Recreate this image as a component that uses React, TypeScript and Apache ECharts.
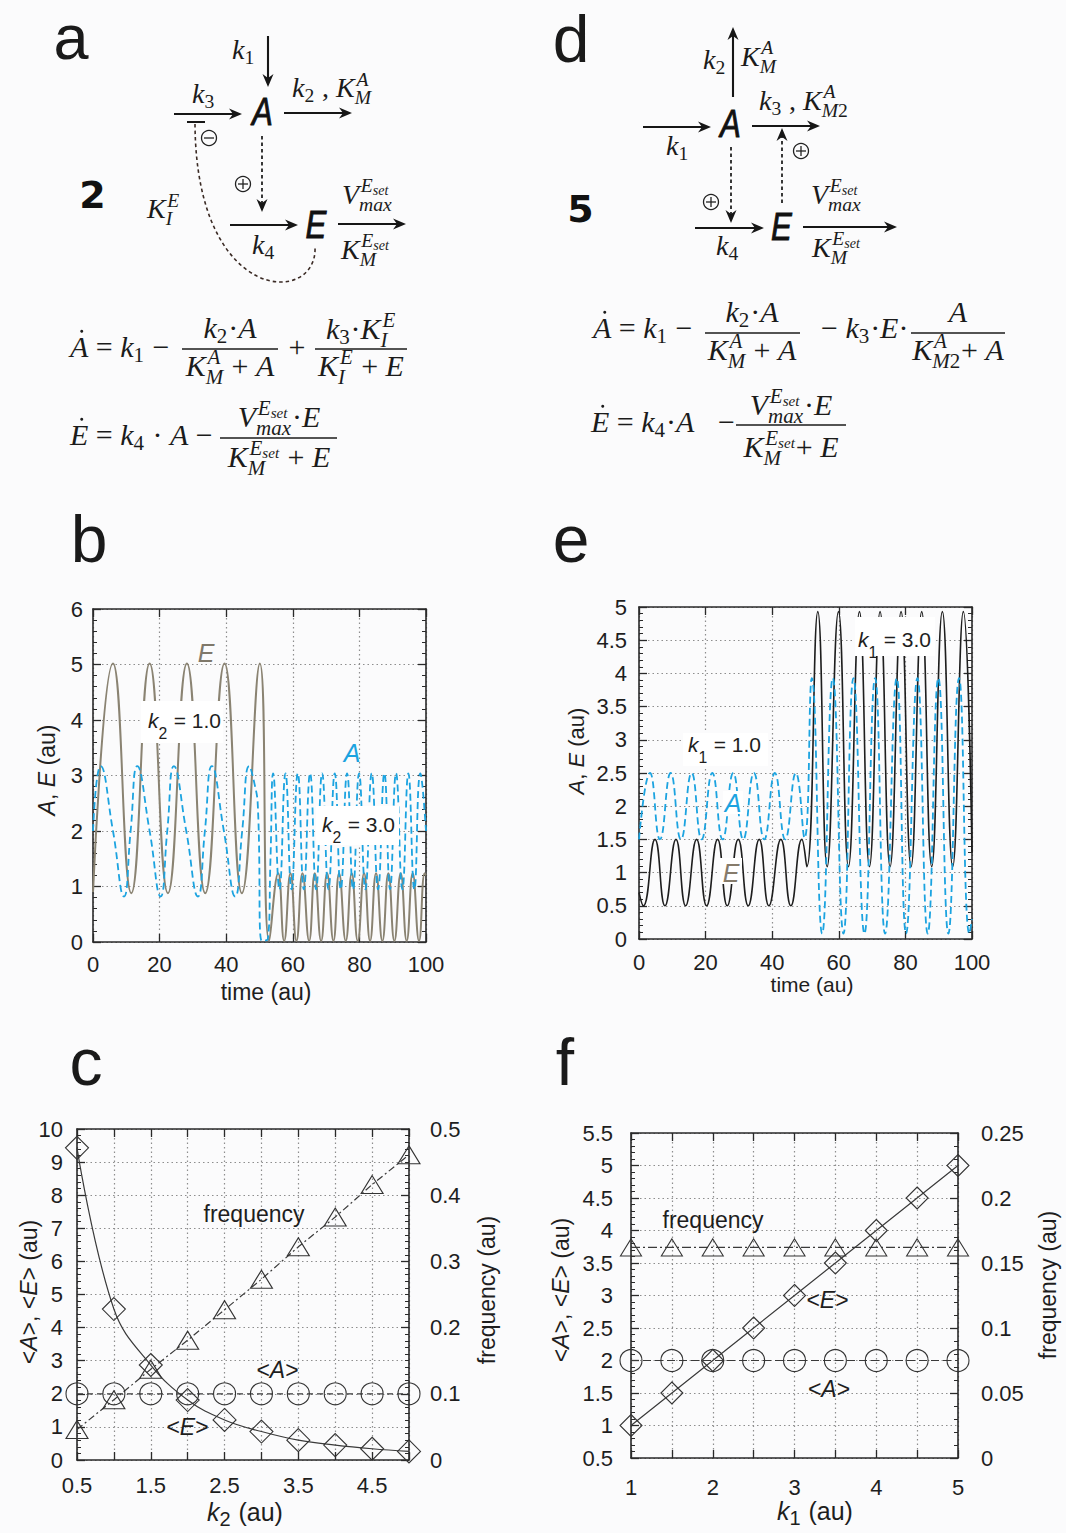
import React, { useEffect, useRef } from 'react';
import * as echarts from 'echarts';

// ---------------- DATA ----------------
// Panel b: k2 switched from 1.0 to 3.0 at t = 50
const bTimeE = [0, 6.0, 11.5, 17.0, 22.5, 28.2, 33.7, 39.5, 44.7, 50.1, 52.9, 55.6, 57.4, 59.3, 61.1, 62.9, 64.9, 66.6, 68.5, 70.3, 72.2, 73.9, 75.9, 77.7, 79.5, 81.4, 83.2, 85.0, 86.9, 88.7, 90.5, 92.4, 94.2, 96.0, 97.9, 99.6, 100];
const bE = [0.9, 5.02, 0.88, 5.02, 0.88, 5.02, 0.88, 5.02, 0.88, 5.02, 0.02, 1.24, 0.02, 1.24, 0.02, 1.24, 0.02, 1.24, 0.02, 1.24, 0.02, 1.24, 0.02, 1.24, 0.02, 1.24, 0.02, 1.24, 0.02, 1.24, 0.02, 1.24, 0.02, 1.24, 0.02, 1.24, 1.2];
const bTimeA = [0, 2.3, 6.0, 9.3, 11.3, 13.3, 17.0, 20.3, 22.3, 24.3, 28.0, 31.5, 33.6, 35.7, 39.3, 42.7, 44.8, 46.9, 48.5, 49.5, 50.7, 52.5, 53.3, 54.1, 56.0, 57.8, 59.6, 61.5, 63.3, 65.2, 67.0, 68.8, 70.7, 72.6, 74.4, 76.3, 78.1, 79.9, 81.8, 83.7, 85.6, 87.5, 89.2, 91.0, 92.9, 94.7, 96.5, 98.3, 100];
const bA = [2.0, 3.17, 2.0, 0.82, 2.0, 3.17, 2.0, 0.82, 2.0, 3.17, 2.0, 0.82, 2.0, 3.17, 2.0, 0.82, 2.0, 3.17, 2.85, 2.45, 0.02, 0.05, 1.5, 3.04, 0.95, 3.04, 0.95, 3.04, 0.95, 3.04, 0.95, 3.04, 0.95, 3.04, 0.95, 3.04, 0.95, 3.04, 0.95, 3.04, 0.95, 3.04, 0.95, 3.04, 0.95, 3.04, 0.95, 3.04, 2.0];

// Panel e: k1 switched from 1.0 to 3.0 at t = 50
const eTimeE = [0, 1.3, 4.8, 7.8, 11.1, 14.0, 17.3, 20.3, 23.6, 26.5, 29.8, 32.8, 36.1, 39.0, 42.6, 45.6, 48.9, 50.4, 53.7, 56.5, 59.9, 62.9, 66.2, 69.2, 72.4, 75.4, 78.7, 81.7, 84.9, 87.9, 91.1, 94.2, 97.4, 100];
const eE = [0.7, 0.5, 1.5, 0.5, 1.5, 0.5, 1.5, 0.5, 1.5, 0.5, 1.5, 0.5, 1.5, 0.5, 1.5, 0.5, 1.5, 1.09, 4.93, 1.09, 4.93, 1.09, 4.93, 1.09, 4.93, 1.09, 4.93, 1.09, 4.93, 1.09, 4.93, 1.09, 4.93, 1.3];
const eTimeA = [0, 3.3, 6.3, 9.5, 12.6, 15.8, 18.8, 22.0, 25.1, 28.3, 31.3, 34.5, 37.6, 40.8, 43.9, 47.1, 49.7, 51.9, 55.0, 58.2, 61.4, 64.4, 67.7, 70.9, 73.9, 77.4, 80.2, 83.6, 86.7, 89.9, 92.9, 96.1, 99.2, 100];
const eA = [1.5, 2.5, 1.5, 2.5, 1.5, 2.5, 1.5, 2.5, 1.5, 2.5, 1.5, 2.5, 1.5, 2.5, 1.5, 2.5, 1.52, 3.93, 0.08, 3.93, 0.08, 3.93, 0.08, 3.93, 0.08, 3.93, 0.08, 3.93, 0.08, 3.93, 0.08, 3.93, 0.08, 0.3];

// Panel c: steady-state means and frequency vs k2
const cK2 = [0.5, 1.0, 1.5, 2.0, 2.5, 3.0, 3.5, 4.0, 4.5, 5.0];
const cMeanE = [9.43, 4.56, 2.87, 1.81, 1.21, 0.86, 0.6, 0.45, 0.34, 0.26];
const cMeanA = [2, 2, 2, 2, 2, 2, 2, 2, 2, 2];
const cFreq = [0.046, 0.091, 0.137, 0.181, 0.227, 0.273, 0.322, 0.367, 0.416, 0.461];

// Panel f: steady-state means and frequency vs k1
const fK1 = [1.0, 1.5, 2.0, 2.5, 3.0, 3.5, 4.0, 4.5, 5.0];
const fMeanE = [1.0, 1.5, 2.0, 2.5, 3.0, 3.5, 4.0, 4.5, 5.0];
const fMeanA = [2, 2, 2, 2, 2, 2, 2, 2, 2];
const fFreq = [0.162, 0.162, 0.162, 0.162, 0.162, 0.162, 0.162, 0.162, 0.162];

// ---------------- STYLE ----------------
const SANS = '"Liberation Sans", Arial, sans-serif';
const SERIF = '"Liberation Serif", "Times New Roman", serif';
const DSANS = '"DejaVu Sans", sans-serif';
const INK = '#1b1b1b';
const BLUE = '#1ba3e0';
const OLIVE = '#8a8372';
const AXC = '#2a2a2a';
const GRIDC = '#8e8e8e';

const zip = (xs: number[], ys: number[]) => xs.map((x, i) => [x, ys[i]]);

// ---------------- tiny math layout ----------------
let _ctx: any = null;
function tw(text: string, font: string) {
  if (!_ctx) _ctx = document.createElement('canvas').getContext('2d');
  _ctx.font = font;
  return _ctx.measureText(text).width;
}

function parse(src: string) {
  const toks: any[] = [];
  let i = 0;
  let nextIt = false;
  while (i < src.length) {
    const c = src[i];
    if (c === '_' || c === '^') {
      let g = '';
      if (src[i + 1] === '{') {
        const k = src.indexOf('}', i + 1);
        g = src.slice(i + 2, k);
        i = k + 1;
      } else {
        g = src[i + 1];
        i += 2;
      }
      const key = c === '_' ? 'sub' : 'sup';
      const last = toks[toks.length - 1];
      if (last && last.kind === 'script' && last[key] == null) last[key] = g;
      else toks.push({ kind: 'script', [key]: g });
      continue;
    }
    if (c === '\u0307') {
      if (toks.length) toks[toks.length - 1].dot = true;
      i++;
      continue;
    }
    if (c === '~') {
      nextIt = true;
      i++;
      continue;
    }
    toks.push({ kind: 'char', c, forceIt: nextIt });
    nextIt = false;
    i++;
  }
  return toks;
}

function runsOf(str: string, math: boolean) {
  const out: any[] = [];
  for (const ch of str) {
    const it = math && /[A-Za-z]/.test(ch);
    const last = out[out.length - 1];
    if (last && last.it === it) last.t += ch;
    else out.push({ t: ch, it });
  }
  return out;
}

function mathText(x: number, baseline: number, src: string, o: any = {}) {
  const S = o.size || 30;
  const fam = o.family || SERIF;
  const col = o.color || INK;
  const math = o.math !== false;
  const ss = o.ss || 0.7;
  const supDy = o.supDy ?? -0.4 * S;
  const supDy2 = o.supDy2 ?? -0.4 * S;
  const subDy = o.subDy ?? 0.17 * S;
  const subDy2 = o.subDy2 ?? 0.27 * S;
  const font = (it: boolean, sz: number) => `${it ? 'italic ' : ''}${sz}px ${fam}`;
  const isIt = (t: any) => (math ? /[A-Za-z]/.test(t.c) : !!t.forceIt);
  const items: any[] = [];
  let pos = 0;
  const toks = parse(src);
  let i = 0;
  while (i < toks.length) {
    const t = toks[i];
    if (t.kind === 'script') {
      const sz = S * ss;
      const both = t.sub != null && t.sup != null;
      let w = 0;
      const parts: any[] = [];
      if (t.sup != null) parts.push([t.sup, both ? supDy2 : supDy, 0.06 * S]);
      if (t.sub != null) parts.push([t.sub, both ? subDy2 : subDy, 0]);
      for (const [str, dy, xo] of parts) {
        let px = pos + xo;
        const [m, n] = String(str).split('_');
        const segs: any[] = [[m, sz, dy]];
        if (n) segs.push([n, sz * 0.72, dy + 0.12 * S]);
        for (const [s2, z2, d2] of segs) {
          for (const r of runsOf(s2, math)) {
            const rw = tw(r.t, font(r.it, z2));
            items.push({ t: r.t, it: r.it, sz: z2, dx: px, dy: d2, script: true });
            px += rw;
          }
        }
        w = Math.max(w, px - pos);
      }
      pos += w + 0.03 * S;
      i++;
      continue;
    }
    const it = isIt(t);
    let s = t.c;
    let j = i + 1;
    if (!t.dot) {
      while (j < toks.length && toks[j].kind === 'char' && !toks[j].dot && isIt(toks[j]) === it) {
        s += toks[j].c;
        j++;
      }
    }
    const w = tw(s, font(it, S));
    items.push({ t: s, it, sz: S, dx: pos, dy: 0, dotW: t.dot ? w : 0 });
    pos += w;
    i = j;
  }
  const x0 = o.align === 'center' ? x - pos / 2 : o.align === 'right' ? x - pos : x;
  const els: any[] = [];
  for (const it of items) {
    els.push({
      type: 'text',
      z: 101,
      x: x0 + it.dx,
      y: baseline + it.dy - 0.34 * it.sz,
      style: {
        text: it.t,
        font: font(it.it, it.sz),
        fill: col,
        lineHeight: Math.round(it.sz * (it.script ? 0.62 : 0.85)),
        align: 'left',
        verticalAlign: 'middle',
        textAlign: 'left',
        textVerticalAlign: 'middle',
      },
    });
    if (it.dotW) {
      els.push({
        type: 'circle',
        z: 101,
        shape: { cx: x0 + it.dx + it.dotW * 0.64, cy: baseline - 0.86 * S, r: 0.05 * S },
        style: { fill: col },
      });
    }
  }
  return els;
}

function arrow(x1: number, y1: number, x2: number, y2: number, dashed = false) {
  const color = '#161616';
  const dx = x2 - x1;
  const dy = y2 - y1;
  const L = Math.hypot(dx, dy);
  const ux = dx / L;
  const uy = dy / L;
  const px = -uy;
  const py = ux;
  const hl = 13;
  const hw = 5.5;
  const notch = 9;
  const bx = x2 - ux * hl;
  const by = y2 - uy * hl;
  const nx = x2 - ux * notch;
  const ny = y2 - uy * notch;
  const lineStyle: any = { stroke: color, lineWidth: dashed ? 1.7 : 2.1 };
  if (dashed) lineStyle.lineDash = [3.5, 3];
  return [
    { type: 'line', z: 100, shape: { x1, y1, x2: nx, y2: ny }, style: lineStyle },
    {
      type: 'polygon',
      z: 100,
      shape: { points: [[x2, y2], [bx + px * hw, by + py * hw], [nx, ny], [bx - px * hw, by - py * hw]] },
      style: { fill: color },
    },
  ];
}

function circOp(cx: number, cy: number, plus: boolean) {
  const st = { stroke: '#222', lineWidth: 1.3 };
  const els: any[] = [
    { type: 'circle', z: 100, shape: { cx, cy, r: 7.5 }, style: { ...st, fill: 'none' } },
    { type: 'line', z: 100, shape: { x1: cx - 5, y1: cy, x2: cx + 5, y2: cy }, style: st },
  ];
  if (plus) els.push({ type: 'line', z: 100, shape: { x1: cx, y1: cy - 5, x2: cx, y2: cy + 5 }, style: st });
  return els;
}

function txt(text: string, cx: number, baseline: number, font: string, size: number, color = INK, extra: any = {}, styleExtra: any = {}) {
  return {
    type: 'text',
    z: 101,
    x: cx,
    y: baseline - 0.346 * size,
    ...extra,
    style: {
      text,
      font,
      fill: color,
      lineHeight: Math.round(size * 0.85),
      align: 'center',
      verticalAlign: 'middle',
      textAlign: 'center',
      textVerticalAlign: 'middle',
      ...styleExtra,
    },
  };
}

const letter = (ch: string, cx: number, base: number, size = 66) => txt(ch, cx, base, `${size}px ${SANS}`, size, '#1a1a1a');
const bigSym = (ch: string, cx: number, base: number) =>
  txt(ch, cx, base, `italic 39px ${SANS}`, 39, '#111', { scaleX: 0.8 }, { stroke: '#111', lineWidth: 0.9 });
const boldNum = (ch: string, cx: number, base: number) => txt(ch, cx, base, `bold 38px ${DSANS}`, 38, '#111');
const whiteBox = (x: number, y: number, w: number, h: number) => ({
  type: 'rect',
  z: 100,
  shape: { x, y, width: w, height: h },
  style: { fill: '#ffffff' },
});
const fracBar = (x1: number, x2: number, y: number) => ({
  type: 'line',
  z: 100,
  shape: { x1, y1: y, x2, y2: y },
  style: { stroke: INK, lineWidth: 1.3 },
});
const rotLabel = (cx: number, cy: number, src: string, size: number) => ({
  type: 'group',
  x: cx,
  y: cy,
  rotation: Math.PI / 2,
  children: mathText(0, 0.35 * size, src, { size, family: SANS, math: false, align: 'center', color: '#1e1e1e' }),
});
const sansLabel = (x: number, base: number, src: string, size: number, extra: any = {}) =>
  mathText(x, base, src, { size, family: SANS, math: false, color: '#1e1e1e', ...extra });

function buildGraphic() {
  const D = 28; // diagram label size
  const Q = 30; // equation size
  const g: any[] = [];
  // panel letters
  g.push(letter('a', 71, 59, 63), letter('d', 571, 62), letter('b', 89, 562), letter('e', 571, 562), letter('c', 86, 1085), letter('f', 565, 1085));

  // ---- panel a diagram ----
  g.push(...mathText(232, 59, 'k_{1}', { size: D }));
  g.push(...arrow(268, 36, 268, 87));
  g.push(...mathText(192, 103, 'k_{3}', { size: D }));
  g.push(...arrow(174, 114, 242, 114));
  g.push(bigSym('A', 262.5, 125));
  g.push(...mathText(292, 97, 'k_{2} , K^{A}_{M}', { size: D }));
  g.push(...arrow(284, 113, 352, 113));
  g.push({ type: 'line', z: 100, shape: { x1: 187, y1: 122, x2: 205, y2: 122 }, style: { stroke: '#161616', lineWidth: 2 } });
  g.push(...circOp(209, 138, false));
  g.push({
    type: 'bezierCurve',
    z: 100,
    shape: { x1: 195, y1: 124, cpx1: 196, cpy1: 306, cpx2: 318, cpy2: 306, x2: 315, y2: 247 },
    style: { stroke: '#3a2a24', lineWidth: 1.6, lineDash: [3.5, 3], fill: 'none' },
  });
  g.push(...arrow(262, 136, 262, 212, true));
  g.push(...circOp(243, 184, true));
  g.push(boldNum('2', 92.5, 208));
  g.push(...mathText(147, 218, 'K^{E}_{I}', { size: D }));
  g.push(...arrow(230, 225, 298, 225));
  g.push(...mathText(252, 254, 'k_{4}', { size: D }));
  g.push(bigSym('E', 316, 238));
  g.push(...arrow(338, 224, 406, 224));
  g.push(...mathText(342, 204, 'V^{E_set}_{max}', { size: D, supDy2: -0.44 * D }));
  g.push(...mathText(341, 259, 'K^{E_set}_{M}', { size: D, supDy2: -0.44 * D }));

  // ---- panel d diagram ----
  g.push(...arrow(733, 97, 733, 27));
  g.push(...mathText(703, 69, 'k_{2}', { size: D }));
  g.push(...mathText(741, 66, 'K^{A}_{M}', { size: D, supDy2: -0.44 * D }));
  g.push(...arrow(643, 127, 711, 127));
  g.push(...mathText(666, 155, 'k_{1}', { size: D }));
  g.push(bigSym('A', 730.5, 137));
  g.push(...arrow(752, 126, 820, 126));
  g.push(...mathText(759, 110, 'k_{3} , K^{A}_{M2}', { size: D, supDy2: -0.44 * D }));
  g.push(...arrow(782, 203, 782, 128, true));
  g.push(...circOp(801, 151, true));
  g.push(...arrow(731, 147, 731, 223, true));
  g.push(...circOp(711, 202, true));
  g.push(boldNum('5', 580.5, 222));
  g.push(...arrow(695, 228, 764, 228));
  g.push(...mathText(716, 255, 'k_{4}', { size: D }));
  g.push(bigSym('E', 781.5, 240));
  g.push(...arrow(803, 227, 897, 227));
  g.push(...mathText(811, 204, 'V^{E_set}_{max}', { size: D, supDy2: -0.44 * D }));
  g.push(...mathText(812, 257, 'K^{E_set}_{M}', { size: D, supDy2: -0.44 * D }));

  // ---- panel a equations ----
  g.push(...mathText(70, 357, 'A\u0307 = k_{1} \u2212', { size: Q }));
  g.push(fracBar(182, 278, 349));
  g.push(...mathText(230, 338, 'k_{2}\u00b7A', { size: Q, align: 'center' }));
  g.push(...mathText(230, 376, 'K^{A}_{M} + A', { size: Q, align: 'center' }));
  g.push(...mathText(297, 357, '+', { size: Q, align: 'center' }));
  g.push(fracBar(315, 407, 349));
  g.push(...mathText(361, 339, 'k_{3}\u00b7K^{E}_{I}', { size: Q, align: 'center' }));
  g.push(...mathText(361, 376, 'K^{E}_{I} + E', { size: Q, align: 'center' }));
  g.push(...mathText(70, 445, 'E\u0307 = k_{4} \u00b7 A \u2212', { size: Q }));
  g.push(fracBar(220, 337, 438));
  g.push(...mathText(279, 427, 'V^{E_set}_{max}\u00b7E', { size: Q, align: 'center' }));
  g.push(...mathText(279, 467, 'K^{E_set}_{M} + E', { size: Q, align: 'center' }));

  // ---- panel d equations ----
  g.push(...mathText(593, 338, 'A\u0307 = k_{1} \u2212', { size: Q }));
  g.push(fracBar(705, 800, 333));
  g.push(...mathText(752, 322, 'k_{2}\u00b7A', { size: Q, align: 'center' }));
  g.push(...mathText(752, 360, 'K^{A}_{M} + A', { size: Q, align: 'center' }));
  g.push(...mathText(821, 338, '\u2212 k_{3}\u00b7E\u00b7', { size: Q }));
  g.push(fracBar(911, 1005, 333));
  g.push(...mathText(958, 322, 'A', { size: Q, align: 'center' }));
  g.push(...mathText(958, 360, 'K^{A}_{M2}+ A', { size: Q, align: 'center' }));
  g.push(...mathText(591, 432, 'E\u0307 = k_{4}\u00b7A', { size: Q }));
  g.push(...mathText(718, 432, '\u2212', { size: Q }));
  g.push(fracBar(736, 846, 425));
  g.push(...mathText(791, 415, 'V^{E_set}_{max}\u00b7E', { size: Q, align: 'center' }));
  g.push(...mathText(791, 457, 'K^{E_set}_{M}+ E', { size: Q, align: 'center' }));

  // ---- panel b labels ----
  g.push(whiteBox(141, 701, 82, 42));
  g.push(...sansLabel(148, 728, '~k_{2} = 1.0', 21, { ss: 0.75, subDy: 0.5 * 21 }));
  g.push(whiteBox(316, 806, 83, 39));
  g.push(...sansLabel(322, 832, '~k_{2} = 3.0', 21, { ss: 0.75, subDy: 0.5 * 21 }));
  g.push(txt('E', 206, 662, `italic 25px ${SANS}`, 25, '#7f786a'));
  g.push(txt('A', 352, 762, `italic 25px ${SANS}`, 25, BLUE));
  g.push(...sansLabel(266, 1000, 'time (au)', 23, { align: 'center' }));
  g.push(rotLabel(46.5, 770, '~A, ~E (au)', 23));

  // ---- panel e labels ----
  g.push(whiteBox(683, 733, 85, 33));
  g.push(...sansLabel(688, 752, '~k_{1} = 1.0', 21, { ss: 0.75, subDy: 0.5 * 21 }));
  g.push(whiteBox(855, 617, 80, 39));
  g.push(...sansLabel(858, 647, '~k_{1} = 3.0', 21, { ss: 0.75, subDy: 0.5 * 21 }));
  g.push(whiteBox(723, 791, 20, 23));
  g.push(txt('A', 733, 812, `italic 25px ${SANS}`, 25, BLUE));
  g.push(whiteBox(720, 858, 22, 26));
  g.push(txt('E', 731, 882, `italic 25px ${SANS}`, 25, '#867b6b'));
  g.push(...sansLabel(812, 992, 'time (au)', 21, { align: 'center' }));
  g.push(rotLabel(576.5, 751, '~A, ~E (au)', 22));

  // ---- panel c labels ----
  g.push(...sansLabel(254, 1222, 'frequency', 23, { align: 'center' }));
  g.push(...sansLabel(277.5, 1378, '<~A>', 23, { align: 'center' }));
  g.push(...sansLabel(187.5, 1435, '<~E>', 23, { align: 'center' }));
  g.push(rotLabel(29, 1292, '<~A>, <~E> (au)', 23));
  g.push(rotLabel(487, 1290, 'frequency (au)', 23));
  g.push(...sansLabel(245, 1520, '~k_{2} (au)', 25, { align: 'center', ss: 0.8, subDy: 0.25 * 25 }));

  // ---- panel f labels ----
  g.push(...sansLabel(713, 1228, 'frequency', 23, { align: 'center' }));
  g.push(...sansLabel(827.5, 1308, '<~E>', 23, { align: 'center' }));
  g.push(...sansLabel(829, 1397, '<~A>', 23, { align: 'center' }));
  g.push(rotLabel(561, 1290, '<~A>, <~E> (au)', 23));
  g.push(rotLabel(1048, 1285, 'frequency (au)', 23));
  g.push(...sansLabel(815, 1519, '~k_{1} (au)', 25, { align: 'center', ss: 0.8, subDy: 0.25 * 25 }));
  return g;
}

// ---------------- axes ----------------
const tickLabel = { fontFamily: SANS, fontSize: 22, color: '#1e1e1e' };
const splitDots = { show: true, lineStyle: { color: GRIDC, width: 1.2, type: [1.5, 3] } };

function xPair(gi: number, min: number, max: number, interval: number, margin: number, fmt?: any) {
  const common: any = {
    type: 'value',
    gridIndex: gi,
    min,
    max,
    interval,
    axisLine: { show: true, onZero: false, lineStyle: { color: AXC, width: 1.6 } },
    axisTick: { show: true, inside: true, length: 8, lineStyle: { color: AXC, width: 1.3 } },
  };
  const lab: any = { ...tickLabel, margin };
  if (fmt) lab.formatter = fmt;
  return [
    { ...common, position: 'bottom', axisLabel: lab, splitLine: splitDots },
    { ...common, position: 'top', axisLabel: { show: false }, splitLine: { show: false } },
  ];
}

function yAx(gi: number, pos: string, min: number, max: number, interval: number, minor: number, margin: number | null) {
  return {
    type: 'value',
    gridIndex: gi,
    position: pos,
    min,
    max,
    interval,
    axisLine: { show: true, onZero: false, lineStyle: { color: AXC, width: 1.6 } },
    axisTick: { show: true, inside: true, length: 8, lineStyle: { color: AXC, width: 1.3 } },
    minorTick: { show: true, splitNumber: minor, length: 4, lineStyle: { color: AXC, width: 1 } },
    axisLabel: margin == null ? { show: false } : { ...tickLabel, margin },
    splitLine: pos === 'left' ? splitDots : { show: false },
  };
}

const fmtC = (v: number) => (Math.round(v * 2) % 2 === 1 ? v.toFixed(1) : '');
const fmtF = (v: number) => (Math.abs(v - Math.round(v)) < 1e-6 ? String(Math.round(v)) : '');

const timeLine = (xi: number, yi: number, xs: number[], ys: number[], color: string, width: number, dashed: boolean) => ({
  type: 'line',
  xAxisIndex: xi,
  yAxisIndex: yi,
  data: zip(xs, ys),
  smooth: 0.5,
  showSymbol: false,
  symbol: 'none',
  lineStyle: { color, width, type: dashed ? [7, 4] : 'solid' },
  z: 3,
});

const mark = (xi: number, yi: number, xs: number[], ys: number[], symbol: string, size: any, dash: any, smooth = 0) => ({
  type: 'line',
  xAxisIndex: xi,
  yAxisIndex: yi,
  data: zip(xs, ys),
  smooth,
  symbol,
  symbolSize: size,
  showSymbol: true,
  lineStyle: { color: '#3a3a3a', width: 1.2, type: dash },
  itemStyle: { color: 'rgba(0,0,0,0)', borderColor: '#333', borderWidth: 1.1 },
  z: 3,
});

function buildOption() {
  return {
    animation: false,
    backgroundColor: '#fbfbfc',
    grid: [
      { left: 93, top: 609, width: 333, height: 333 },
      { left: 639, top: 607, width: 333, height: 332 },
      { left: 77, top: 1129, width: 332, height: 331 },
      { left: 631, top: 1133, width: 327, height: 325 },
    ],
    xAxis: [
      ...xPair(0, 0, 100, 20, 11),
      ...xPair(1, 0, 100, 20, 12),
      ...xPair(2, 0.5, 5, 0.5, 14, fmtC),
      ...xPair(3, 1, 5, 0.5, 18, fmtF),
    ],
    yAxis: [
      yAx(0, 'left', 0, 6, 1, 5, 10),
      yAx(0, 'right', 0, 6, 1, 5, null),
      yAx(1, 'left', 0, 5, 0.5, 5, 12),
      yAx(1, 'right', 0, 5, 0.5, 5, null),
      yAx(2, 'left', 0, 10, 1, 5, 14),
      yAx(2, 'right', 0, 0.5, 0.1, 10, 21),
      yAx(3, 'left', 0.5, 5.5, 0.5, 5, 18),
      yAx(3, 'right', 0, 0.25, 0.05, 5, 23),
    ],
    series: [
      timeLine(0, 0, bTimeE, bE, OLIVE, 2, false),
      timeLine(0, 0, bTimeA, bA, BLUE, 1.8, true),
      timeLine(2, 2, eTimeE, eE, '#1e1e1e', 1.6, false),
      timeLine(2, 2, eTimeA, eA, BLUE, 1.8, true),
      mark(4, 4, cK2, cMeanE, 'diamond', 23, 'solid', 0.4),
      mark(4, 4, cK2, cMeanA, 'circle', 22, [6, 4]),
      mark(4, 5, cK2, cFreq, 'triangle', [22, 18], [7, 3, 2, 3]),
      mark(6, 6, fK1, fMeanE, 'diamond', 22, 'solid'),
      mark(6, 6, fK1, fMeanA, 'circle', 22, [8, 4]),
      mark(6, 7, fK1, fFreq, 'triangle', [21, 17], [9, 3, 2, 3]),
    ],
    graphic: { elements: buildGraphic() },
  };
}

export default function App() {
  const ref = useRef<HTMLDivElement>(null);
  useEffect(() => {
    const chart = echarts.init(ref.current as HTMLDivElement, null, { renderer: 'svg' });
    chart.setOption(buildOption() as any);
    return () => chart.dispose();
  }, []);
  return (
    <div
      ref={ref}
      style={{ position: 'absolute', left: 0, top: 0, width: 1066, height: 1533, background: '#fbfbfc' }}
    />
  );
}
